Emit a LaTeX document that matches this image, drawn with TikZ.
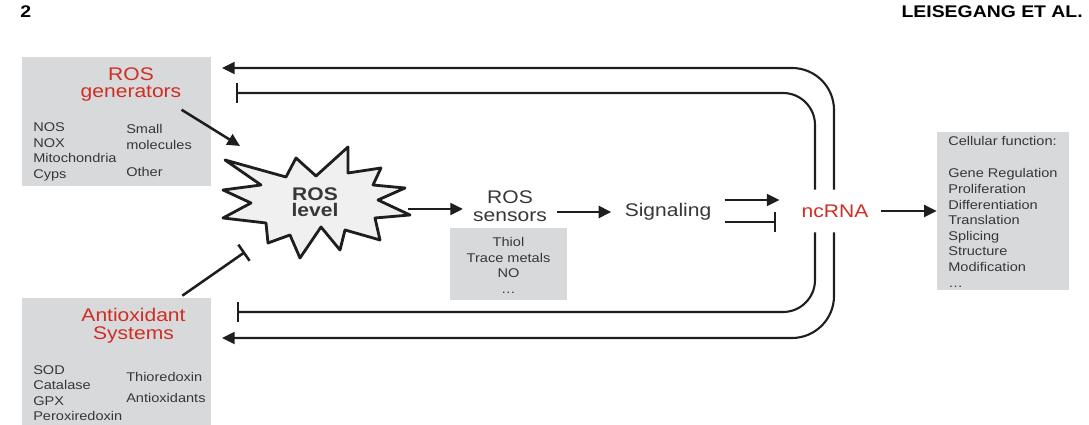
\documentclass[tikz,border=0pt]{standalone}
\usepackage{fontspec}
\setmainfont[FakeStretch=1.15]{Liberation Sans}
\usetikzlibrary{arrows.meta,calc}

\definecolor{boxgray}{RGB}{216,217,219}
\definecolor{txtgray}{RGB}{55,55,55}
\definecolor{rosred}{RGB}{208,45,35}
\definecolor{linegray}{RGB}{30,30,30}
\definecolor{stargray}{RGB}{240,240,240}

\tikzset{
  panel/.style={fill=boxgray, inner sep=0pt},
  head/.style={font=\fontsize{12}{14}\selectfont\bfseries, inner sep=0pt},
  title/.style={text=rosred, font=\fontsize{13}{12.5}\selectfont, align=center, inner sep=0pt, anchor=north},
  label/.style={text=txtgray, font=\fontsize{13}{12.8}\selectfont, align=center, inner ysep=0pt},
  item/.style={text=txtgray, font=\fontsize{9}{11.1}\selectfont, align=left, inner sep=0pt, anchor=north west},
  act/.style={-{Triangle[length=9pt,width=8.5pt]}, line width=1.8pt, draw=linegray},
  inh/.style={-{Bar[width=14pt]}, line width=1.8pt, draw=linegray},
  loopline/.style={line width=1.5pt},
}

\begin{document}
\begin{tikzpicture}[x=0.025cm,y=0.025cm]
  \useasboundingbox (0,0) rectangle (1089,425);

  % Page header
  \node[head, anchor=west] (pgnum) at (20,413) {2};
  \node[head, anchor=east] (runhead) at (1083,413) {LEISEGANG ET AL.};

  % ROS generators
  \node[panel, minimum width=4.725cm, minimum height=3.225cm] (gen) at (116.5,303.5) {};
  \node[title] (gentitle) at (131,358) {ROS\\generators};
  \node[item] (genleft) at (33,302.5) {NOS\\NOX\\Mitochondria\\Cyps};
  \node[item] (genright) at (126,300.7) {Small\\molecules\\[8pt]Other};

  % Antioxidant systems
  \node[panel, minimum width=4.725cm, minimum height=3.175cm] (anti) at (116.5,63.5) {};
  \node[title] (antititle) at (133.5,117) {Antioxidant\\Systems};
  \node[item] (antileft) at (33,60) {SOD\\Catalase\\GPX\\Peroxiredoxin};
  \node[item] (antiright) at (126,53.3) {Thioredoxin\\[4pt]Antioxidants};

  % ROS level burst
  \filldraw[fill=stargray, draw=linegray, line width=2pt, line join=round]
    (225,265) -- (286,248) -- (296,267) -- (316,249) -- (348,278) -- (348,252)
    -- (381,257) -- (373,240) -- (405,237) -- (378,225) -- (410,210) -- (375,207)
    -- (380,185) -- (345,195) -- (340,175) -- (321,198) -- (300,167) -- (290,190)
    -- (268,182) -- (266,202) -- (223,207) -- (251,222) -- (223,235) -- (261,240)
    -- cycle;
  \node[label, font=\fontsize{13}{11.5}\selectfont\bfseries, inner sep=0pt] (lvl) at (315,223) {ROS\\level};
  \coordinate (lvlnw) at (240,279);
  \coordinate (lvlsw) at (245,173);
  \coordinate (lvle) at (408,216);

  % Sensors
  \node[label, inner xsep=0.25cm] (sens) at (510,218.5) {ROS\\sensors};
  \node[panel, minimum width=2.925cm, minimum height=1.8cm] (sensbox) at (508.5,161) {};
  \node[item, align=center, anchor=north] (senslist) at (508.5,188) {Thiol\\Trace metals\\NO\\\ldots};

  % Signaling and ncRNA
  \node[label, inner xsep=0.33cm] (sig) at (668,213) {Signaling};
  \node[title, anchor=center, inner xsep=0.3cm, minimum height=1.05cm] (rna) at (835,214) {ncRNA};

  % Cellular function
  \node[panel, minimum width=3.3cm, minimum height=3.95cm] (cell) at (1003,214) {};
  \node[item] (celllist) at (948,289) {Cellular function:\\[12pt]Gene Regulation\\Proliferation\\Differentiation\\Translation\\Splicing\\Structure\\Modification\\\ldots};

  % Main chain
  \draw[act] ([yshift=-5.7pt]gentitle.south east) -- (lvlnw);
  \draw[inh] ([xshift=-0.725cm,yshift=0.05cm]anti.north east) -- (lvlsw);
  \draw[act] (lvle) -- (lvle -| sens.west);
  \draw[act] (sens.east |- sig.west) -- (sig.west);
  \draw[act, shorten >=0.25cm] ($(sig.east)+(0,12)$) -- ($(sig.east -| rna.west)+(0,12)$);
  \draw[inh, shorten >=0.33cm] ($(sig.east)+(0,-10)$) -- ($(sig.east -| rna.west)+(0,-10)$);
  \draw[act] (rna.east) -- (cell.west);

  % Feedback loops
  \coordinate (outx) at (834,0);
  \coordinate (inx) at (815,0);
  \coordinate (gtop) at (222,357);
  \coordinate (gin) at (236,332);
  \coordinate (ain) at (237,113);
  \coordinate (abot) at (222,87);
  \draw[act, loopline, rounded corners=1.05cm] (rna.north -| outx) |- (gtop);
  \draw[inh, loopline, rounded corners=0.8cm] (rna.north -| inx) |- (gin);
  \draw[inh, loopline, rounded corners=0.8cm] (rna.south -| inx) |- (ain);
  \draw[act, loopline, rounded corners=1.05cm] (rna.south -| outx) |- (abot);
\end{tikzpicture}
\end{document}
